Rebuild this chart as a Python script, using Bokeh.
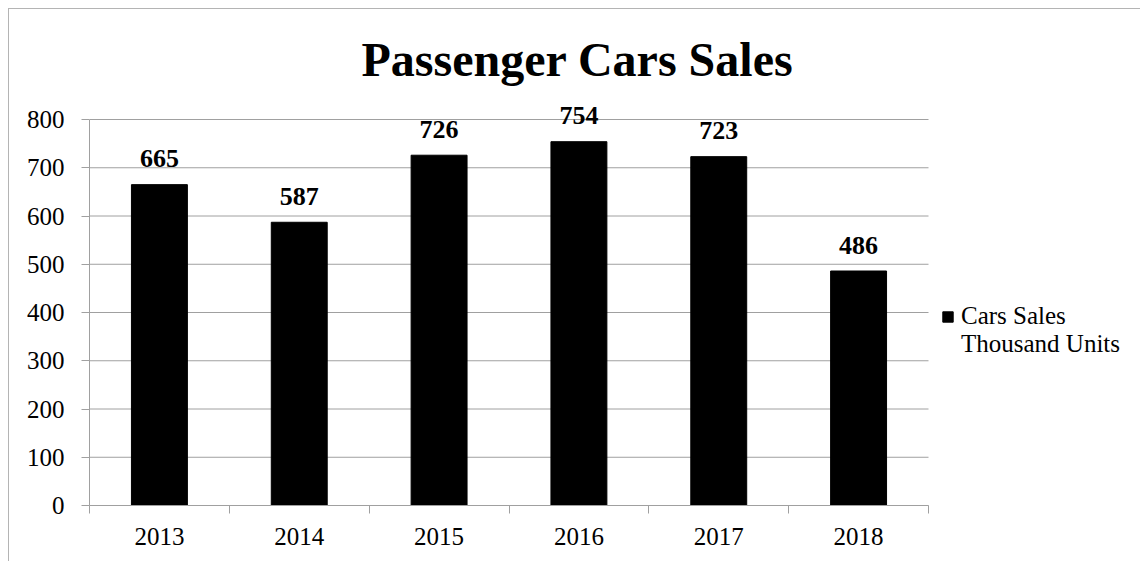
from bokeh.plotting import figure
from bokeh.models import ColumnDataSource, FixedTicker, Legend, LegendItem, Label
from bokeh.core.properties import value
from bokeh.embed import file_html
from bokeh.resources import INLINE

years = ["2013", "2014", "2015", "2016", "2017", "2018"]
sales = [665, 587, 726, 754, 723, 486]
y_ticks = [0, 100, 200, 300, 400, 500, 600, 700, 800]
series_name_lines = ["Cars Sales", "Thousand Units"]
chart_title = "Passenger Cars Sales"

FONT = "Liberation Serif"
GRID = "#a0a0a0"

# layout (pixels)
PLOT_W, PLOT_H = 839, 386        # size of the value area (6 categories x 0..800)
FRAME_W, FRAME_H = 1052, 496     # drawing frame incl. room for title & legend
y_max = y_ticks[-1]
px_x = PLOT_W / len(years)
px_y = PLOT_H / y_max
x_end = FRAME_W / px_x
y_end = FRAME_H / px_y

xpos = [i + 0.5 for i in range(len(years))]
src = ColumnDataSource(dict(x=xpos, top=sales, label=[str(v) for v in sales]))
gsrc = ColumnDataSource(dict(x0=[0] * len(y_ticks), x1=[len(years)] * len(y_ticks),
                             y=y_ticks))

p = figure(width=1132, height=553, output_backend="svg", toolbar_location=None,
           x_range=(0, x_end), y_range=(0, y_end),
           min_border_left=80, min_border_top=0, min_border_right=0, min_border_bottom=57)
p.margin = (8, 0, 0, 8)
p.styles = {"border-left": "1px solid #b4b4b4", "border-top": "1px solid #b4b4b4"}
p.outline_line_color = None
p.background_fill_color = "white"
p.border_fill_color = "white"
p.xgrid.grid_line_color = None
p.ygrid.grid_line_color = None

p.segment(x0="x0", x1="x1", y0="y", y1="y", source=gsrc, line_color=GRID, line_width=1)

bars = p.vbar(x="x", top="top", width=0.4, source=src, color="black")
blank = p.vbar(x="x", top="top", width=0.4, source=src, fill_alpha=0, line_alpha=0)
p.text(x="x", y="top", text="label", source=src, text_align="center",
       text_baseline="alphabetic", y_offset=-26, text_font=value(FONT),
       text_font_size="26px", text_font_style="bold", text_color="black")

# x axis: labels at bar centers, tick marks at category boundaries
p.xaxis.bounds = (0, len(years))
p.xaxis.ticker = FixedTicker(ticks=xpos, minor_ticks=list(range(len(years) + 1)))
p.xaxis.major_label_overrides = {x: y for x, y in zip(xpos, years)}
p.xaxis.major_tick_out = 0
p.xaxis.major_tick_in = 0
p.xaxis.minor_tick_out = 8
p.xaxis.minor_tick_in = 0
p.xaxis.minor_tick_line_color = GRID
p.xaxis.axis_line_color = GRID
p.xaxis.major_label_text_font = FONT
p.xaxis.major_label_text_font_size = "25px"
p.xaxis.major_label_text_color = "black"
p.xaxis.major_label_standoff = 14

p.yaxis.bounds = (0, y_max)
p.yaxis.ticker = FixedTicker(ticks=y_ticks)
p.yaxis.major_tick_out = 8
p.yaxis.major_tick_in = 0
p.yaxis.minor_tick_line_color = None
p.yaxis.major_tick_line_color = GRID
p.yaxis.axis_line_color = GRID
p.yaxis.major_label_text_font = FONT
p.yaxis.major_label_text_font_size = "25px"
p.yaxis.major_label_text_color = "black"
p.yaxis.major_label_standoff = 17

# title (centre at 488 px right of the axis)
p.add_layout(Label(x=488 / px_x, y=446 / px_y, text=chart_title, text_align="center",
                   text_baseline="alphabetic", text_font=FONT, text_font_size="48px",
                   text_font_style="bold", text_color="black"))

legend = Legend(items=[LegendItem(label=series_name_lines[0], renderers=[bars]),
                       LegendItem(label=series_name_lines[1], renderers=[blank])],
                location=(852, 147), border_line_color=None, background_fill_alpha=0,
                label_text_font=FONT, label_text_font_size="25px", label_text_color="black",
                glyph_width=13, glyph_height=13, label_standoff=7, padding=0, margin=0,
                spacing=0, label_height=28)
p.add_layout(legend)

open("out.html", "w").write(file_html(p, INLINE))
